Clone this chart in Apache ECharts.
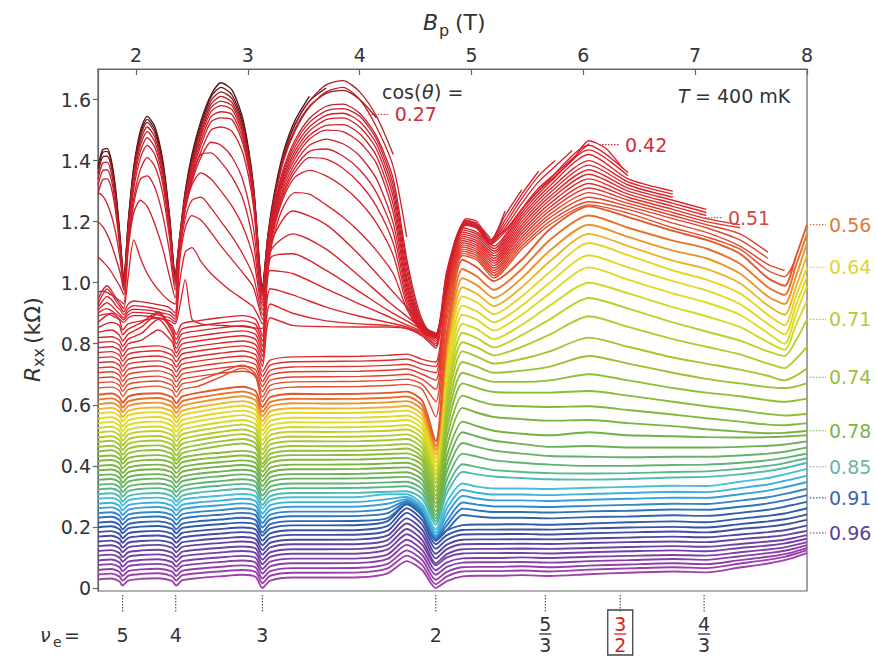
<!DOCTYPE html>
<html><head><meta charset="utf-8">
<script src="https://cdn.jsdelivr.net/npm/echarts@6/dist/echarts.min.js"></script>
<style>html,body{margin:0;padding:0;background:#fff}#c{width:876px;height:658px}</style>
</head><body><div id="c"></div>
<script>
// ---------- x grids (B_p in T) ----------
const xUpper = [1.66,1.70,1.74,1.78,1.82,1.86,1.89,1.93,1.98,2.04,2.10,2.17,2.24,2.30,2.35,2.39,2.44,2.50,2.58,2.67,2.76,2.86,2.96,3.05,3.13,3.18,3.24,3.32,3.42,3.55,3.70,3.85,4.00,4.15,4.30,4.42,4.52,4.60,4.68,4.76,4.85,4.95,5.05,5.17,5.30,5.45,5.60,5.75,5.90,6.05,6.20,6.35];
const xLower = [1.66,1.78,1.85,1.88,1.93,2.05,2.2,2.32,2.36,2.41,2.55,2.75,2.95,3.07,3.13,3.2,3.4,3.7,4.0,4.25,4.42,4.56,4.68,4.78,4.92,5.05,5.2,5.45,5.7,6.05,6.4,6.8,7.1,7.4,7.65,7.8,7.9,8.0];

// ---------- R_xx values in ohm (divided by 1000 for kOhm) ----------
// tall curves (smallest cos theta), on xUpper
const tl00 = [1380,1435,1440,1400,1300,1140,1010,1200,1380,1500,1545,1510,1400,1220,1030,1150,1300,1420,1530,1615,1655,1630,1530,1320,990,1160,1300,1430,1530,1610];
const tl01 = [1371,1426,1430,1392,1291,1136,1010,1194,1375,1488,1535,1499,1390,1214,1025,1147,1294,1410,1518,1608,1640,1614,1518,1314,985,1155,1292,1420,1517,1595,1638];
const tl02 = [1358,1411,1415,1378,1280,1128,1005,1186,1366,1479,1525,1489,1381,1207,1020,1144,1288,1401,1508,1596,1625,1602,1508,1307,980,1150,1283,1408,1502,1578,1620,1630,1600,1540];
const tl03 = [1340,1391,1395,1359,1265,1119,1000,1179,1354,1465,1510,1475,1369,1199,1015,1141,1283,1394,1498,1584,1610,1590,1498,1301,975,1150,1285,1415,1515,1595,1648,1662,1625,1545,1420];
const tl04 = [1318,1366,1370,1336,1246,1108,995,1170,1342,1451,1495,1460,1357,1189,1010,1139,1277,1386,1488,1573,1595,1579,1488,1295,970,1145,1275,1400,1495,1575,1625,1640,1600,1510,1380,1150];
const tl05 = [1291,1337,1340,1309,1225,1095,990,1160,1327,1432,1475,1442,1341,1179,1005,1136,1271,1378,1478,1560,1580,1566,1478,1289,965,1135,1260,1376,1466,1538,1578,1585,1555,1480,1340,1080,920,850,835];
const tl06 = [1295,1285,1260,1220,1160,1070,985,1148,1308,1409,1450,1418,1322,1166,1000,1132,1264,1367,1464,1544,1560,1550,1464,1281,960,1130,1252,1365,1455,1525,1563,1570,1545,1470,1320,1060,905,848,832,960,1130];
const tl07 = [1200,1185,1160,1125,1080,1030,975,1128,1277,1372,1410,1380,1290,1145,990,1128,1255,1355,1450,1527,1540,1533,1450,1272,955,1125,1245,1355,1443,1510,1548,1555,1528,1455,1300,1040,895,845,830,965,1135,1205,1195];
const tl08 = [1085,1070,1055,1035,1010,985,960,1120,1260,1340,1350,1310,1220,1100,975,1125,1245,1340,1430,1500,1510,1495,1420,1250,945,1120,1237,1345,1430,1497,1534,1540,1510,1438,1280,1020,888,842,828,962,1132,1203,1192,1145];
const tl09 = [970,972,968,960,950,940,930,1110,1230,1270,1250,1190,1110,1020,950,1120,1240,1330,1410,1460,1450,1410,1330,1180,935,1115,1230,1335,1418,1482,1515,1518,1488,1415,1255,1005,880,840,826,958,1128,1200,1189,1140,1235];
const tl10 = [945,975,990,975,950,930,915,1020,1140,1080,1030,990,960,940,930,1130,1260,1350,1420,1425,1395,1345,1270,1130,925,1110,1225,1325,1405,1470,1500,1495,1460,1390,1230,990,875,838,825,955,1125,1197,1186,1136,1220,1305];
const tl11 = [930,960,980,965,940,920,905,930,940,938,935,930,925,918,900,1110,1240,1320,1360,1340,1300,1250,1180,1080,910,1100,1215,1312,1390,1450,1470,1455,1415,1340,1195,975,870,836,824,952,1122,1194,1183,1132,1205,1290,1365];
const tl12 = [920,940,955,945,925,910,895,915,925,923,920,916,910,905,890,1090,1210,1270,1280,1245,1200,1150,1090,1020,895,1090,1205,1300,1375,1430,1438,1415,1370,1295,1165,960,866,834,823,950,1120,1192,1181,1129,1192,1276,1350,1400];
const tl13 = [910,925,935,925,910,895,885,905,913,912,910,906,900,895,880,1070,1180,1220,1205,1165,1120,1075,1030,985,880,1080,1195,1290,1362,1410,1405,1375,1325,1250,1130,945,862,832,822,948,1118,1190,1179,1127,1180,1260,1331,1382,1433];
const tl14 = [900,910,915,908,898,888,878,895,903,902,900,896,890,885,872,1000,1100,1115,1070,1030,1000,970,945,920,865,1070,1185,1280,1345,1368,1350,1315,1265,1195,1090,930,858,830,821,946,1116,1188,1177,1125,1167,1242,1310,1358,1406,1455];
const tl15 = [890,895,898,893,885,878,870,885,892,892,890,886,880,876,865,920,1010,880,865,862,860,858,856,852,850,1050,1165,1250,1295,1290,1255,1215,1165,1105,1030,915,855,828,820,944,1114,1210,1200,1140,1172,1240,1300,1350,1400,1465,1440,1375];
const tallCos = [0.20,0.22,0.25,0.27,0.29,0.31,0.33,0.34,0.35,0.36,0.37,0.38,0.39,0.40,0.41,0.42];

// red curves, on xLower
const rd00 = [870,900,880,845,865,875,885,860,830,865,875,885,892,880,825,1120,1235,1190,1090,990,920,860,830,1040,1180,1165,1120,1240,1340,1450,1360];
const rd01 = [853,870,860,830,848,870,905,850,815,848,858,868,875,863,808,1100,1160,1110,1020,940,890,850,822,1033,1173,1158,1112,1230,1328,1435,1350];
const rd02 = [837,845,829,809,832,855,900,840,800,832,842,852,859,847,792,1080,1095,1040,970,910,875,845,815,1026,1166,1151,1104,1220,1317,1420,1340,1300];
const rd03 = [820,823,812,792,815,835,880,825,785,815,825,835,842,830,775,1040,1030,980,930,890,862,840,808,1019,1159,1144,1096,1210,1305,1400,1330,1290];
const rd04 = [804,807,796,776,800,812,845,808,770,799,809,819,826,814,759,980,960,920,890,870,855,835,800,1011,1152,1137,1088,1200,1294,1385,1320,1280];
const rd05 = [787,790,779,759,782,790,793,779,757,782,792,802,809,797,742,930,900,875,865,860,850,830,793,1004,1145,1130,1080,1190,1282,1370,1310,1270,1240];
const rd06 = [771,774,763,743,766,774,777,763,741,766,776,786,793,781,726,885,860,856,855,855,850,825,786,997,1138,1123,1072,1180,1271,1355,1300,1260,1230];
const rd07 = [754,757,746,726,749,757,760,746,724,749,759,769,776,764,709,746,757,758,759,762,766,749,740,975,1131,1116,1064,1170,1259,1340,1290,1250,1220];
const rd08 = [738,741,730,710,733,741,744,730,708,733,743,753,760,748,693,730,741,742,743,746,750,733,725,964,1124,1109,1056,1160,1247,1325,1280,1240,1210,1190];
const rd09 = [721,724,713,693,716,724,727,713,691,716,726,736,743,731,676,713,724,725,726,729,733,716,705,952,1117,1102,1048,1150,1236,1310,1270,1230,1200,1180];
const rd10 = [705,708,697,677,700,708,711,697,675,700,710,720,727,715,660,697,708,709,710,713,717,700,680,938,1110,1095,1040,1140,1224,1295,1260,1220,1190,1160,1100];
const rd11 = [688,691,680,660,683,691,694,680,658,683,693,703,710,698,643,680,691,692,693,696,700,683,650,922,1103,1088,1032,1130,1213,1280,1250,1210,1180,1140,1080];
const rd12 = [672,675,664,644,667,675,678,664,642,668,678,705,730,700,625,664,675,676,677,680,684,667,610,902,1096,1081,1024,1120,1201,1265,1240,1195,1165,1120,1060,1040];
const rd13 = [655,658,647,627,650,658,661,647,625,650,660,690,720,690,610,647,658,659,660,663,667,650,560,877,1089,1074,1016,1110,1190,1255,1228,1180,1150,1110,1040,1020,1080];
const redCos = [0.43,0.44,0.45,0.46,0.47,0.48,0.49,0.50,0.51,0.52,0.53,0.54,0.545,0.553];

// lower family, on xLower
const lo00 = [28,31,22,8,24,30,32,23,8,25,32,38,43,36,0,24,34,34,35,48,88,58,0,22,38,40,40,42,39,45,50,54,51,67,80,91,102,115];
const lo01 = [44,47,38,24,40,46,48,39,24,41,48,54,59,52,16,40,50,50,51,64,106,75,12,38,54,55,55,57,54,60,64,68,65,80,92,102,112,124];
const lo02 = [59,62,53,39,55,61,63,54,39,56,63,69,74,67,31,55,65,65,66,79,123,91,27,53,68,69,69,71,68,73,77,81,78,91,102,111,120,131];
const lo03 = [75,78,69,55,71,77,79,70,55,72,79,85,90,83,47,71,81,81,82,95,141,108,43,69,83,84,84,85,83,88,91,95,92,104,114,122,130,140];
const lo04 = [90,93,84,70,86,92,94,85,70,87,94,100,105,98,62,86,96,96,97,110,158,124,58,84,97,98,98,100,98,102,105,108,106,117,126,133,141,150];
const lo05 = [106,109,100,86,102,108,110,101,86,103,110,116,121,114,78,102,112,112,113,126,176,141,74,100,113,114,114,115,113,117,120,123,120,131,139,146,153,161];
const lo06 = [121,124,115,101,117,123,125,116,101,118,125,131,136,129,93,117,127,127,128,141,193,157,81,111,127,128,128,129,128,131,134,137,135,144,152,158,165,173];
const lo07 = [137,140,131,117,133,139,141,132,117,134,141,147,152,145,109,133,143,143,144,157,211,174,97,127,143,144,144,145,144,147,150,152,150,160,167,173,180,187];
const lo08 = [152,155,146,132,148,154,156,147,132,149,156,162,167,160,124,148,158,158,159,172,228,190,112,142,158,159,159,160,159,162,165,168,166,175,183,189,196,204];
const lo09 = [168,171,162,148,164,170,172,163,148,165,172,178,183,176,140,164,174,174,175,188,246,207,128,158,175,176,176,177,175,179,182,185,182,193,201,208,215,223];
const lo10 = [183,186,177,163,179,185,187,178,163,180,187,193,198,191,155,179,189,189,190,203,261,222,143,173,190,191,191,192,191,195,198,200,198,209,218,225,232,241];
const lo11 = [199,202,193,179,195,201,203,194,179,196,203,209,214,207,171,195,205,205,206,219,274,236,159,189,206,208,208,209,207,211,215,218,215,227,236,244,252,261];
const lo12 = [214,217,207,192,209,216,218,208,192,210,218,224,230,222,182,209,219,219,220,229,274,239,154,189,239,234,230,230,228,232,234,238,236,246,256,266,274,282];
const lo13 = [230,233,223,208,225,232,234,224,208,226,234,240,246,238,198,225,235,235,236,245,280,245,160,205,260,254,249,249,247,251,253,257,256,266,277,287,295,304];
const lo14 = [245,248,238,223,240,247,249,239,223,241,249,255,261,253,213,240,250,250,251,260,285,250,165,220,280,273,267,267,265,269,272,276,275,286,297,308,316,325];
const lo15 = [261,264,254,239,256,263,265,255,239,257,265,271,277,269,229,256,266,266,267,276,291,256,171,241,301,293,287,287,285,289,292,296,295,307,319,330,338,347];
const lo16 = [276,279,269,254,271,278,280,270,254,272,280,286,292,284,244,271,281,281,282,291,298,264,181,261,321,312,306,306,304,308,311,315,314,327,339,351,359,368];
const lo17 = [292,295,285,270,287,294,296,286,270,288,296,302,308,300,260,287,297,297,298,307,307,274,192,282,342,332,326,326,324,328,331,335,334,348,360,372,381,390];
const lo18 = [307,310,300,283,301,309,311,301,283,302,312,319,325,316,272,301,311,311,312,315,317,292,207,310,380,372,365,360,356,355,357,362,364,372,383,393,401,410];
const lo19 = [323,326,316,299,317,325,327,317,299,318,328,335,341,332,288,317,327,327,328,331,333,308,218,330,405,396,386,380,376,375,376,380,382,390,400,409,417,425];
const lo20 = [338,341,331,314,332,340,342,332,314,333,343,350,356,347,303,332,342,342,343,346,348,323,228,355,440,430,418,410,404,400,400,403,404,410,418,426,433,440];
const lo21 = [354,357,347,330,348,356,358,348,330,349,359,366,372,363,319,348,358,358,359,362,364,339,239,381,475,462,450,440,432,430,428,430,430,434,440,446,453,460];
const lo22 = [369,372,362,345,363,371,373,363,345,364,374,381,387,378,334,363,373,373,374,377,379,354,251,406,510,496,482,472,462,465,460,460,460,462,466,470,475,480];
const lo23 = [385,388,378,361,379,387,389,379,361,380,390,397,403,394,350,379,389,389,390,393,395,370,265,433,545,530,515,505,500,510,500,497,494,493,494,496,498,500];
const lo24 = [400,403,393,376,394,402,404,394,376,395,405,412,418,409,365,394,404,404,405,408,410,385,278,465,590,574,560,553,548,550,540,530,520,512,507,508,511,515];
const lo25 = [416,419,409,392,410,418,420,410,392,411,421,428,434,425,381,410,420,420,421,424,426,401,291,494,630,614,600,595,593,595,583,568,556,545,535,533,536,540];
const lo26 = [431,434,424,407,425,433,435,425,407,426,436,443,449,440,396,425,435,435,436,439,441,416,303,523,670,655,642,640,640,645,630,610,595,582,570,565,567,570];
const lo27 = [447,451,439,421,441,450,452,439,419,441,453,465,473,459,407,439,450,449,450,453,457,427,317,550,705,690,675,675,680,700,680,655,640,628,615,610,614,620];
const lo28 = [462,466,454,436,456,465,467,454,434,456,468,480,488,474,422,454,465,464,465,468,472,442,330,576,740,725,705,712,725,760,735,705,685,670,658,655,660,670];
const lo29 = [478,482,470,452,472,481,483,470,450,472,484,496,504,490,438,470,481,480,481,484,488,458,345,603,775,758,735,750,775,820,790,755,735,715,695,680,695,720];
const lo30 = [493,497,485,467,487,496,498,485,465,487,499,511,519,505,453,485,496,495,496,499,503,473,357,626,805,788,762,790,830,890,855,815,790,765,735,720,750,790];
const lo31 = [509,513,501,483,503,512,514,501,481,503,515,527,535,521,469,501,512,511,512,515,519,489,371,649,835,818,788,828,880,950,915,870,840,810,775,760,810,880];
const lo32 = [524,528,516,498,518,527,529,516,496,518,530,542,550,536,484,516,527,526,527,530,534,504,384,673,865,848,815,862,925,1000,965,920,890,855,805,780,860,940];
const lo33 = [540,544,532,514,534,543,545,532,512,534,546,558,566,552,500,532,543,542,543,546,550,520,398,696,895,878,843,895,965,1050,1010,965,935,895,835,800,895,990];
const lo34 = [555,559,547,529,549,558,560,547,527,549,561,573,581,567,515,547,558,557,558,561,565,535,411,719,925,906,870,925,1000,1090,1050,1005,975,930,865,830,925,1020];
const lo35 = [571,575,563,545,565,574,576,563,543,565,577,589,597,583,531,563,574,573,574,577,581,551,425,743,955,935,897,955,1035,1130,1090,1040,1010,965,895,860,955,1050];
const lo36 = [586,590,578,560,580,589,591,578,558,580,592,604,612,598,546,578,589,588,589,592,596,566,438,766,985,963,923,985,1070,1160,1120,1072,1045,998,925,895,985,1090];
const lo37 = [602,606,594,576,596,605,607,594,574,596,608,620,628,614,562,594,605,604,605,608,612,582,452,790,1015,992,950,1015,1105,1190,1150,1105,1080,1030,955,930,1020,1130];
const lo38 = [617,621,609,591,611,620,622,609,589,611,623,635,643,629,577,609,620,619,620,623,627,597,465,813,1045,1020,977,1045,1140,1220,1180,1138,1112,1062,985,960,1055,1160];
const lo39 = [633,637,625,607,627,636,638,625,605,627,639,651,659,645,593,625,636,635,636,639,643,613,481,837,1075,1050,1005,1075,1175,1250,1215,1170,1140,1095,1015,990,1085,1190];
const lowerCos = [1.00,0.995,0.99,0.983,0.977,0.972,0.967,0.961,0.953,0.943,0.933,0.923,0.914,0.902,0.891,0.879,0.868,0.856,0.845,0.834,0.823,0.812,0.802,0.79,0.78,0.771,0.762,0.753,0.744,0.734,0.723,0.711,0.69,0.676,0.659,0.64,0.62,0.60,0.58,0.56];

// annotations
const xTicks = [2,3,4,5,6,7,8];
const yTicks = [0,0.2,0.4,0.6,0.8,1.0,1.2,1.4,1.6];
const nuText = ['5','4','3','2','5/3','3/2','4/3'];
const nuField = [1.88,2.355,3.13,4.68,5.66,6.33,7.08];
const rightLabels = ['0.56','0.64','0.71','0.74','0.78','0.85','0.91','0.96'];
const rightLabelR = [1.19,1.05,0.88,0.69,0.515,0.397,0.295,0.18];
const rightLabelColor = ['#de7a3a','#e3d431','#b6c83a','#9cbe3e','#7db446','#6cb4a8','#3a63ad','#5a3f9c'];
const innerLabels = ['0.27','0.42','0.51'];
const innerLabelB = [4.08,6.14,7.06];
const innerLabelR = [1.551,1.452,1.213];
const innerLabelColor = ['#c8303c','#d8283a','#d04848'];

const lowerCurves = [lo00,lo01,lo02,lo03,lo04,lo05,lo06,lo07,lo08,lo09,lo10,lo11,lo12,lo13,lo14,lo15,lo16,lo17,lo18,lo19,lo20,lo21,lo22,lo23,lo24,lo25,lo26,lo27,lo28,lo29,lo30,lo31,lo32,lo33,lo34,lo35,lo36,lo37,lo38,lo39];
const redCurves = [rd00,rd01,rd02,rd03,rd04,rd05,rd06,rd07,rd08,rd09,rd10,rd11,rd12,rd13];
const tallCurves = [tl00,tl01,tl02,tl03,tl04,tl05,tl06,tl07,tl08,tl09,tl10,tl11,tl12,tl13,tl14,tl15];

// ---------- colours ----------
const stops = [[0.20,'#4a1414'],[0.23,'#6a1818'],[0.26,'#a01c26'],[0.28,'#c41e2a'],[0.42,'#d8202c'],[0.50,'#dc2a2c'],[0.55,'#e24a2c'],[0.58,'#e8722c'],[0.61,'#eea42c'],[0.64,'#e8d424'],[0.68,'#dcdc22'],[0.72,'#b4cc2a'],[0.75,'#94c034'],[0.79,'#74b044'],[0.83,'#5cb47c'],[0.855,'#48c0d8'],[0.875,'#38a8dc'],[0.90,'#2e74bc'],[0.925,'#2e58a8'],[0.95,'#4a48a0'],[0.97,'#7440a4'],[1.0,'#a040ac']];
function hex(h){return [parseInt(h.substr(1,2),16),parseInt(h.substr(3,2),16),parseInt(h.substr(5,2),16)];}
function cosColor(c){
  if(c<=stops[0][0]) return stops[0][1];
  for(let i=1;i<stops.length;i++){
    if(c<=stops[i][0]){
      const t=(c-stops[i-1][0])/(stops[i][0]-stops[i-1][0]);
      const a=hex(stops[i-1][1]), b=hex(stops[i][1]);
      return 'rgb('+a.map((v,j)=>Math.round(v+(b[j]-v)*t)).join(',')+')';
    }
  }
  return stops[stops.length-1][1];
}
function mk(xs, ys, cos, w){
  return {type:'line', data: ys.map((y,i)=>[xs[i], y/1000]), symbol:'none', showSymbol:false,
    smooth:0.25, silent:true, animation:false,
    lineStyle:{color:cosColor(cos), width:w}};
}
const series=[];
lowerCurves.forEach((ys,i)=>series.push(mk(xLower, ys, lowerCos[i], 1.9)));
redCurves.forEach((ys,i)=>series.push(mk(xLower, ys, redCos[i], 1.4)));
tallCurves.forEach((ys,i)=>series.push(mk(xUpper, ys, tallCos[i], 1.3)));

const FONT='DejaVu Sans';
const chart = echarts.init(document.getElementById('c'), null, {renderer:'svg', width:876, height:658});
chart.setOption({
  animation:false,
  grid:{left:98, right:69, top:69, bottom:67, show:true, borderColor:'#666', borderWidth:1.2},
  xAxis:{type:'value', position:'top', min:1.66, max:8,
    axisLine:{show:true, onZero:false, lineStyle:{color:'#666', width:1.2}},
    axisTick:{show:true, inside:true, length:6, customValues:xTicks, lineStyle:{color:'#666', width:1.2}},
    axisLabel:{customValues:xTicks, fontFamily:FONT, fontSize:19, color:'#333', margin:5},
    splitLine:{show:false}},
  yAxis:{type:'value', min:-0.01, max:1.7,
    axisLine:{show:true, onZero:false, lineStyle:{color:'#666', width:1.2}},
    axisTick:{show:true, inside:false, length:5, customValues:yTicks, lineStyle:{color:'#666', width:1.2}},
    axisLabel:{customValues:yTicks, fontFamily:FONT, fontSize:19, color:'#333', margin:7,
      formatter:v=> (Math.abs(v)<1e-9 ? '0' : v.toFixed(1))},
    splitLine:{show:false}},
  series:series
});

// ---------- annotations ----------
const px=v=>chart.convertToPixel({xAxisIndex:0}, v);
const py=v=>chart.convertToPixel({yAxisIndex:0}, v);
function txt(s,x,y,opt){
  opt=opt||{};
  return {type:'text', x:x, y:y, silent:true, z:100, style:{text:s, fill:opt.fill||'#333',
    fontSize:opt.size||19, fontFamily:FONT, fontStyle:opt.italic?'italic':'normal',
    textAlign:opt.align||'left', textVerticalAlign:'middle', align:opt.align||'left', verticalAlign:'middle'}};
}
function dline(x1,y1,x2,y2,color){
  return {type:'line', silent:true, z:100, shape:{x1:x1,y1:y1,x2:x2,y2:y2}, style:{stroke:color||'#555', lineWidth:1.2, lineDash:[1.5,1.5]}};
}
const g=[];
// nu_e row
g.push(txt('\u03bd',40,635,{italic:true}));
g.push(txt('e',53,642,{size:14}));
g.push(txt('=',64,635));
nuText.forEach((s,i)=>{
  const x=px(nuField[i]);
  g.push(dline(x,595,x,613,'#555'));
  const col = s==='3/2' ? '#d8202c' : '#333';
  if(s.indexOf('/')<0){
    g.push(txt(s,x,635,{align:'center'}));
  } else {
    const p=s.split('/');
    g.push(txt(p[0],x,624,{align:'center',fill:col}));
    g.push({type:'line', silent:true, z:100, shape:{x1:x-6,y1:634,x2:x+6,y2:634}, style:{stroke:col, lineWidth:1.3}});
    g.push(txt(p[1],x,645,{align:'center',fill:col}));
    if(s==='3/2') g.push({type:'rect', silent:true, z:100, shape:{x:x-12.5,y:610,width:25,height:45}, style:{fill:'none', stroke:'#444', lineWidth:1.3}});
  }
});
// right-hand cos labels
rightLabels.forEach((s,i)=>{
  const y=py(rightLabelR[i]);
  g.push(dline(810,y,826,y,rightLabelColor[i]));
  g.push(txt(s,829,y,{fill:rightLabelColor[i]}));
});
// inner labels
innerLabels.forEach((s,i)=>{
  const x=px(innerLabelB[i]), y=py(innerLabelR[i]);
  g.push(dline(x,y,x+21,y,innerLabelColor[i]));
  g.push(txt(s,x+26,y,{fill:innerLabelColor[i]}));
});
// cos(theta) =
g.push(txt('cos(',382,92));
g.push(txt('\u03b8',422,92,{italic:true}));
g.push(txt(') =',434,92));
// T = 400 mK
g.push(txt('T',678,96,{italic:true}));
g.push(txt('= 400 mK',695,96));
// axis titles
g.push(txt('B',423,22,{italic:true,size:22}));
g.push(txt('p',439,30,{size:16}));
g.push(txt('(T)',455,22,{size:22}));
g.push({type:'group', x:32, y:338, rotation:Math.PI/2, silent:true, children:[
  txt('R',-44,0,{italic:true,size:22}),
  txt('xx',-29,6,{size:16}),
  txt('(k\u03a9)',-6,0,{size:22})
]});
chart.setOption({graphic:{elements:g}});
</script>
</body></html>
